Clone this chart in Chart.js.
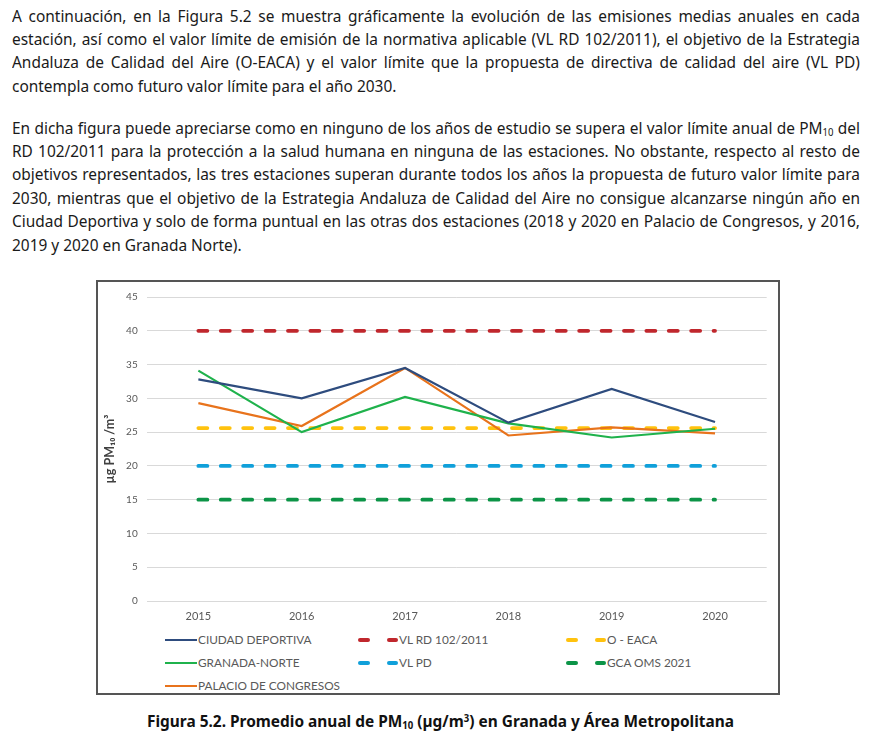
<!DOCTYPE html>
<html><head><meta charset="utf-8">
<script src="https://cdn.jsdelivr.net/npm/chart.js@4"></script>
<style>
html,body{margin:0;padding:0;background:#fff;}
body{width:873px;height:749px;position:relative;overflow:hidden;font-family:"Noto Sans",sans-serif;color:#1a1a1a;}
.ln{position:absolute;left:12px;white-space:nowrap;font-size:16px;line-height:23.5px;height:23.5px;transform-origin:0 0;}
.j{text-align:justify;text-align-last:justify;}
sub{font-size:0.62em;vertical-align:-0.2em;line-height:0}
sup{font-size:0.62em;vertical-align:0.55em;line-height:0}
#box{position:absolute;left:96px;top:280px;width:684px;height:415px;border:2px solid #555;box-sizing:border-box;}
#cv{position:absolute;left:98px;top:282px;}
.lg{position:absolute;font-family:Lato,sans-serif;font-size:11.8px;color:#595959;height:14px;line-height:14px;white-space:nowrap;}
.lg .mk{display:inline-block;vertical-align:middle;}
#cap{position:absolute;top:709px;font-weight:bold;font-size:16px;line-height:24px;white-space:nowrap;transform-origin:0 0;color:#111;}
</style></head>
<body>
<div id="text"></div>
<div id="box"></div>
<canvas id="cv" width="680" height="345" style="width:680px;height:345px"></canvas>
<div id="legend"></div>
<div id="cap">Figura 5.2. Promedio anual de PM<sub>10</sub> (µg/m<sup>3</sup>) en Granada y Área Metropolitana</div>
<script>
// ---- data ----
const years = ['2015','2016','2017','2018','2019','2020'];
const ciudadDeportiva = [32.8, 30.0, 34.5, 26.4, 31.4, 26.5];
const granadaNorte = [34.1, 25.0, 30.2, 26.3, 24.2, 25.5];
const palacioCongresos = [29.3, 25.9, 34.5, 24.5, 25.7, 24.8];
const vlRd = [40, 40, 40, 40, 40, 40];
const oEaca = [25.6, 25.6, 25.6, 25.6, 25.6, 25.6];
const vlPd = [20, 20, 20, 20, 20, 20];
const gcaOms = [15, 15, 15, 15, 15, 15];
const yMin = 0, yMax = 45, yStep = 5;
const seriesNames = ['CIUDAD DEPORTIVA','GRANADA-NORTE','PALACIO DE CONGRESOS','VL RD 102/2011','O - EACA','VL PD','GCA OMS 2021'];
const yTitle = 'µg PM₁₀ /m³';

// ---- body text ----
const para1 = [
 'A continuación, en la Figura 5.2 se muestra gráficamente la evolución de las emisiones medias anuales en cada',
 'estación, así como el valor límite de emisión de la normativa aplicable (VL RD 102/2011), el objetivo de la Estrategia',
 'Andaluza de Calidad del Aire (O-EACA) y el valor límite que la propuesta de directiva de calidad del aire (VL PD)',
 'contempla como futuro valor límite para el año 2030.'];
const para2 = [
 'En dicha figura puede apreciarse como en ninguno de los años de estudio se supera el valor límite anual de PM<sub>10</sub> del',
 'RD 102/2011 para la protección a la salud humana en ninguna de las estaciones. No obstante, respecto al resto de',
 'objetivos representados, las tres estaciones superan durante todos los años la propuesta de futuro valor límite para',
 '2030, mientras que el objetivo de la Estrategia Andaluza de Calidad del Aire no consigue alcanzarse ningún año en',
 'Ciudad Deportiva y solo de forma puntual en las otras dos estaciones (2018 y 2020 en Palacio de Congresos, y 2016,',
 '2019 y 2020 en Granada Norte).'];
const textDiv = document.getElementById('text');
let maxW = 0;
[...para1.slice(0,3), ...para2.slice(0,5)].forEach(t => {
  const p = document.createElement('span');
  p.className = 'ln'; p.style.visibility = 'hidden'; p.innerHTML = t;
  textDiv.appendChild(p);
  maxW = Math.max(maxW, p.getBoundingClientRect().width);
  textDiv.removeChild(p);
});
const s = 842 / maxW;
function addPara(lines, top){
  lines.forEach((t,i)=>{
    const d = document.createElement('div');
    d.className = 'ln' + (i < lines.length-1 ? ' j' : '');
    d.innerHTML = t;
    d.style.top = (top + i*23.45) + 'px';
    if (i < lines.length-1) d.style.width = (848/s) + 'px';
    d.style.transform = 'scaleX(' + s + ')';
    textDiv.appendChild(d);
  });
}
addPara(para1, 4.5);
addPara(para2, 116.5);

// caption
const cap = document.getElementById('cap');
const cw = cap.getBoundingClientRect().width;
const cs = 587 / cw;
cap.style.transform = 'scaleX(' + cs + ')';
cap.style.left = (440 - 587/2) + 'px';

// ---- chart ----
const solid = (label, data, color) => ({label, data, borderColor: color, backgroundColor: color,
  borderWidth: 2.2, pointRadius: 0, tension: 0, fill: false});
const dashed = (label, data, color) => ({label, data, borderColor: color, backgroundColor: color,
  borderWidth: 3.8, pointRadius: 0, tension: 0, fill: false, borderDash: [9, 13.4], borderCapStyle: 'round'});

const datasets = [
  solid(seriesNames[0], ciudadDeportiva, '#2E4C7E'),
  solid(seriesNames[1], granadaNorte, '#1FB24C'),
  solid(seriesNames[2], palacioCongresos, '#E8731C'),
  dashed(seriesNames[3], vlRd, '#C0272D'),
  dashed(seriesNames[4], oEaca, '#FFC20E'),
  dashed(seriesNames[5], vlPd, '#10A0DA'),
  dashed(seriesNames[6], gcaOms, '#0C9447'),
];

new Chart(document.getElementById('cv'), {
  type: 'line',
  data: { labels: years, datasets },
  options: {
    responsive: false, animation: false, devicePixelRatio: 1,
    layout: { padding: { left: 0, right: 11.3, top: 8.5, bottom: 0 } },
    plugins: { legend: { display: false }, tooltip: { enabled: false } },
    scales: {
      x: {
        offset: true,
        grid: { display: false, drawTicks: false },
        border: { display: false },
        ticks: { color: '#595959', font: { family: 'Lato', size: 11 }, padding: 9 },
        afterFit: (sc) => { sc.height = 26; }
      },
      y: {
        min: yMin, max: yMax,
        grid: { color: '#d9d9d9', lineWidth: 1, drawTicks: false },
        border: { display: false },
        ticks: { stepSize: yStep, color: '#595959', font: { family: 'Lato', size: 10 }, padding: 9 },
        title: { display: true, text: yTitle, color: '#404040', font: { family: 'Lato', size: 12.5, weight: 'bold' }, padding: { top: 4, bottom: 0 } },
        afterFit: (sc) => { sc.width = 48.7; }
      }
    }
  }
});

// ---- legend (HTML) ----
const legendSlots = [
  {ds: 0, x: 165, y: 632}, {ds: 3, x: 358, y: 632}, {ds: 4, x: 566, y: 632},
  {ds: 1, x: 165, y: 655}, {ds: 5, x: 358, y: 655}, {ds: 6, x: 566, y: 655},
  {ds: 2, x: 165, y: 678}
];
const lg = document.getElementById('legend');
legendSlots.forEach(sl => {
  const d = datasets[sl.ds];
  const el = document.createElement('div');
  el.className = 'lg';
  el.style.left = sl.x + 'px'; el.style.top = sl.y + 'px';
  let mk = '';
  if (d.borderDash) {
    mk = `<span class="mk" style="width:12px;height:3.5px;border-radius:2px;background:${d.borderColor};margin-right:17px"></span>` +
         `<span class="mk" style="width:11px;height:3.5px;border-radius:2px;background:${d.borderColor};margin-right:1px"></span>`;
  } else {
    mk = `<span class="mk" style="width:32px;height:2px;background:${d.borderColor};margin-right:1px"></span>`;
  }
  el.innerHTML = mk + `<span style="vertical-align:middle">${d.label}</span>`;
  lg.appendChild(el);
});
</script>
</body></html>
